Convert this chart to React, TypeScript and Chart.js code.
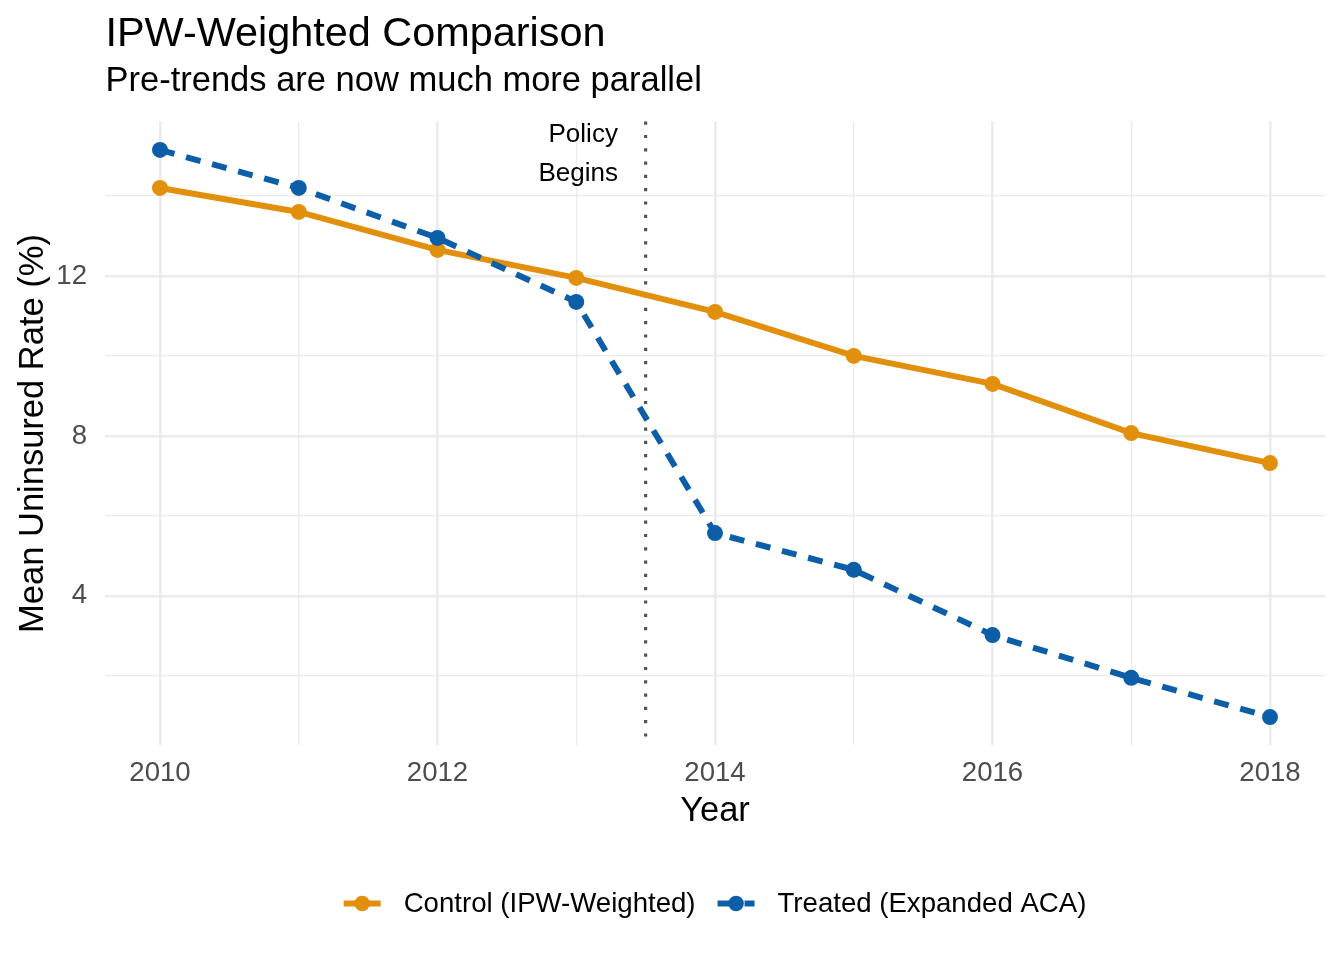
import React, { useEffect, useRef } from "react";
import { Chart, registerables } from "chart.js";

Chart.register(...registerables);

// ---------- data ----------
const years = [2010, 2011, 2012, 2013, 2014, 2015, 2016, 2017, 2018];
const controlRate = [14.2, 13.6, 12.65, 11.95, 11.1, 10.0, 9.3, 8.07, 7.32];
const treatedRate = [15.15, 14.2, 12.95, 11.35, 5.57, 4.65, 3.02, 1.95, 0.97];

const xTickValues = [2010, 2011, 2012, 2013, 2014, 2015, 2016, 2017, 2018];
const xLabelValues = [2010, 2012, 2014, 2016, 2018];
const yTickValues = [2, 4, 6, 8, 10, 12, 14];
const yLabelValues = [4, 8, 12];

const policyYear = 2013.5;
const policyLabelX = 2013.3;
const policyLabelY = 15.1;
const policyLabel = ["Policy", "Begins"];

const seriesNames = ["Control (IPW-Weighted)", "Treated (Expanded ACA)"];
const titleText = "IPW-Weighted Comparison";
const subtitleText = "Pre-trends are now much more parallel";
const xTitleText = "Year";
const yTitleText = "Mean Uninsured Rate (%)";

// ---------- styles ----------
const ORANGE = "#E28F0C";
const BLUE = "#0C5EA8";
const GRID = "#EBEBEB";
const TICK = "#4D4D4D";
const FONT = "'Liberation Sans', Arial, Helvetica, sans-serif";
const LINE_W = 6;
const DASH = [15, 12];

const allVals = [...controlRate, ...treatedRate];
const yLo = Math.min(...allVals);
const yHi = Math.max(...allVals);
const yPad = (yHi - yLo) * 0.05;
const xLo = Math.min(...years);
const xHi = Math.max(...years);
const xPad = (xHi - xLo) * 0.05;

const decorPlugin = {
  id: "decor",
  beforeDatasetsDraw(chart: any) {
    const { ctx, chartArea, scales } = chart;
    const x = scales.x.getPixelForValue(policyYear);
    ctx.save();
    ctx.strokeStyle = "#555555";
    ctx.lineWidth = 3.2;
    ctx.setLineDash([3.2, 10.1]);
    ctx.beginPath();
    ctx.moveTo(x, chartArea.top);
    ctx.lineTo(x, chartArea.bottom);
    ctx.stroke();
    ctx.restore();
  },
  afterDraw(chart: any) {
    const { ctx, chartArea, scales } = chart;
    ctx.save();
    ctx.fillStyle = "#000000";
    ctx.textBaseline = "alphabetic";

    // titles
    ctx.textAlign = "left";
    ctx.font = `41.4px ${FONT}`;
    ctx.fillText(titleText, chartArea.left + 1, 46);
    ctx.font = `34.5px ${FONT}`;
    ctx.fillText(subtitleText, chartArea.left + 1, 90.5);

    // x axis title
    ctx.textAlign = "center";
    ctx.font = `34.5px ${FONT}`;
    ctx.fillText(xTitleText, (chartArea.left + chartArea.right) / 2, 821);

    // y axis title
    ctx.save();
    ctx.translate(43, (chartArea.top + chartArea.bottom) / 2);
    ctx.rotate(-Math.PI / 2);
    ctx.textAlign = "center";
    ctx.fillText(yTitleText, 0, 0);
    ctx.restore();

    // annotation
    const ax = scales.x.getPixelForValue(policyLabelX);
    const ay = scales.y.getPixelForValue(policyLabelY);
    ctx.font = `26px ${FONT}`;
    ctx.textAlign = "right";
    const gap = 38.4;
    policyLabel.forEach((t, i) => {
      ctx.fillText(t, ax, ay - gap / 2 + 9.5 + i * gap);
    });

    // legend
    ctx.font = `27.6px ${FONT}`;
    const keyW = 37;
    const keyGap = 23;
    const itemGap = 22;
    const widths = seriesNames.map((s) => ctx.measureText(s).width);
    const total = keyW * 2 + keyGap * 2 + itemGap + widths[0] + widths[1];
    let lx = (chartArea.left + chartArea.right) / 2 - total / 2;
    const ly = 903.5;
    const colors = [ORANGE, BLUE];
    const dashes = [[], DASH];
    seriesNames.forEach((name, i) => {
      ctx.save();
      ctx.strokeStyle = colors[i];
      ctx.lineWidth = LINE_W;
      ctx.setLineDash(dashes[i]);
      ctx.beginPath();
      ctx.moveTo(lx, ly);
      ctx.lineTo(lx + keyW, ly);
      ctx.stroke();
      ctx.setLineDash([]);
      ctx.fillStyle = colors[i];
      ctx.beginPath();
      ctx.arc(lx + keyW / 2, ly, 7.8, 0, Math.PI * 2);
      ctx.fill();
      ctx.restore();
      lx += keyW + keyGap;
      ctx.textAlign = "left";
      ctx.textBaseline = "middle";
      ctx.fillStyle = "#000000";
      ctx.fillText(name, lx, ly + 1);
      lx += widths[i] + itemGap;
    });
    ctx.restore();
  },
};

export default function App() {
  const canvasRef = useRef<HTMLCanvasElement | null>(null);

  useEffect(() => {
    document.body.style.margin = "0";
    const canvas = canvasRef.current;
    if (!canvas) return;

    const controlPts = years.map((y, i) => ({ x: y, y: controlRate[i] }));
    const treatedPts = years.map((y, i) => ({ x: y, y: treatedRate[i] }));

    const chart = new Chart(canvas, {
      type: "line",
      data: {
        datasets: [
          {
            label: seriesNames[0] + " points",
            data: controlPts,
            showLine: false,
            pointRadius: 8,
            pointBackgroundColor: ORANGE,
            pointBorderWidth: 0,
            borderColor: ORANGE,
            order: 1,
          },
          {
            label: seriesNames[1] + " points",
            data: treatedPts,
            showLine: false,
            pointRadius: 8,
            pointBackgroundColor: BLUE,
            pointBorderWidth: 0,
            borderColor: BLUE,
            order: 0,
          },
          {
            label: seriesNames[0],
            data: controlPts,
            borderColor: ORANGE,
            borderWidth: LINE_W,
            pointRadius: 0,
            tension: 0,
            order: 3,
          },
          {
            label: seriesNames[1],
            data: treatedPts,
            borderColor: BLUE,
            borderWidth: LINE_W,
            borderDash: DASH,
            pointRadius: 0,
            tension: 0,
            order: 2,
          },
        ],
      },
      options: {
        animation: false,
        responsive: true,
        maintainAspectRatio: false,
        layout: { padding: { top: 121.6, right: 18.5, left: 0, bottom: 0 } },
        plugins: {
          legend: { display: false },
          tooltip: { enabled: false },
          title: { display: false },
        },
        scales: {
          x: {
            type: "linear",
            min: xLo - xPad,
            max: xHi + xPad,
            afterBuildTicks: (scale: any) => {
              scale.ticks = xTickValues.map((v) => ({ value: v }));
            },
            afterFit: (scale: any) => {
              scale.height = 960 - 745.4;
            },
            border: { display: false },
            grid: {
              color: GRID,
              drawTicks: false,
              lineWidth: (c: any) =>
                c.tick && xLabelValues.includes(c.tick.value) ? 2.6 : 1.3,
            },
            ticks: {
              autoSkip: false,
              maxRotation: 0,
              padding: 11,
              color: TICK,
              font: { family: FONT, size: 27.6 },
              callback: (v: any) => (xLabelValues.includes(Number(v)) ? String(v) : ""),
            },
          },
          y: {
            type: "linear",
            min: yLo - yPad,
            max: yHi + yPad,
            afterBuildTicks: (scale: any) => {
              scale.ticks = yTickValues.map((v) => ({ value: v }));
            },
            afterFit: (scale: any) => {
              scale.width = 104.5;
            },
            border: { display: false },
            grid: {
              color: GRID,
              drawTicks: false,
              lineWidth: (c: any) =>
                c.tick && yLabelValues.includes(c.tick.value) ? 2.6 : 1.3,
            },
            ticks: {
              autoSkip: false,
              padding: 17.5,
              color: TICK,
              font: { family: FONT, size: 27.6 },
              callback: (v: any) => (yLabelValues.includes(Number(v)) ? String(v) : ""),
            },
          },
        },
      },
      plugins: [decorPlugin],
    } as any);

    return () => chart.destroy();
  }, []);

  return (
    <div
      style={{
        position: "fixed",
        left: 0,
        top: 0,
        width: 1344,
        height: 960,
        background: "#ffffff",
      }}
    >
      <canvas ref={canvasRef} />
    </div>
  );
}
